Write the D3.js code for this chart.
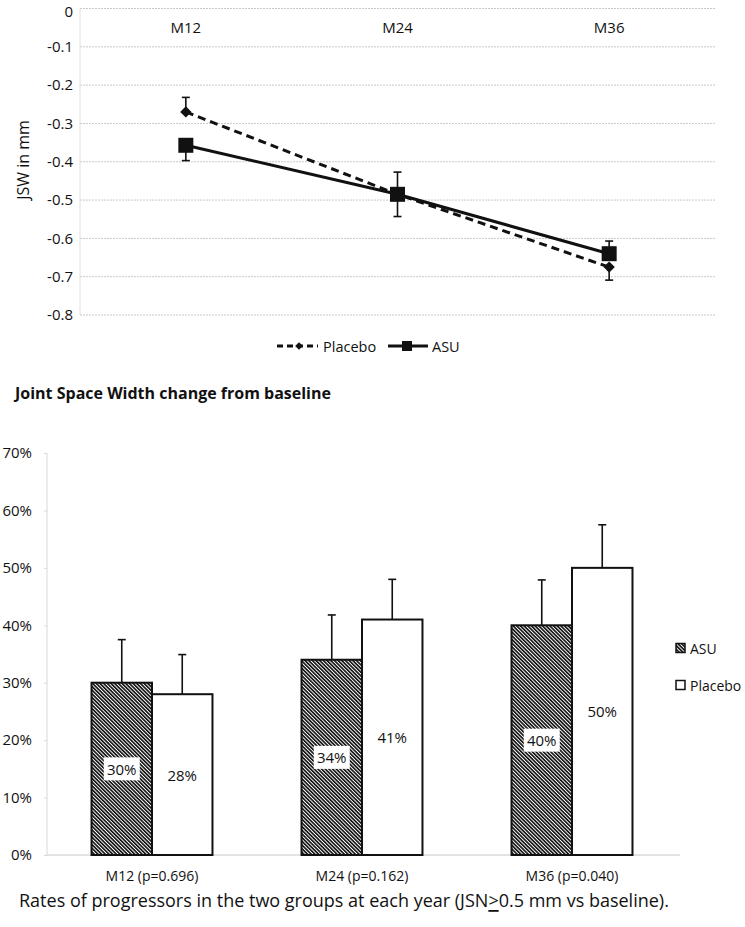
<!DOCTYPE html>
<html><head><meta charset="utf-8">
<script src="https://cdn.jsdelivr.net/npm/d3@7"></script>
<style>
body{margin:0;background:#fff;}
svg{display:block;font-family:"Open Sans",sans-serif;}
</style></head>
<body>
<svg id="chart" width="745" height="927"></svg>
<script>
// ---------- Top chart data ----------
const timepoints = ["M12", "M24", "M36"];
const placeboJSW = [-0.27, -0.485, -0.675];
const asuJSW = [-0.357, -0.485, -0.64];
const placeboErrHigh = [-0.232, -0.427, null];
const placeboErrLow = [null, null, -0.709];
const asuErrHigh = [null, null, -0.607];
const asuErrLow = [-0.397, -0.543, null];
const jswTicks = [0, -0.1, -0.2, -0.3, -0.4, -0.5, -0.6, -0.7, -0.8];
const jswTickLabels = ["0", "-0.1", "-0.2", "-0.3", "-0.4", "-0.5", "-0.6", "-0.7", "-0.8"];

// ---------- Bottom chart data ----------
const barCategories = ["M12 (p=0.696)", "M24 (p=0.162)", "M36 (p=0.040)"];
const asuRates = [30, 34, 40];
const placeboRates = [28, 41, 50];
const asuRateErr = [37.5, 41.8, 47.9];
const placeboRateErr = [34.9, 48.0, 57.5];
const rateTicks = [0, 10, 20, 30, 40, 50, 60, 70];

const svg = d3.select("#chart");
const defs = svg.append("defs");
const pat = defs.append("pattern").attr("id", "hatch").attr("patternUnits", "userSpaceOnUse")
  .attr("width", 2.6).attr("height", 2.6).attr("patternTransform", "rotate(-45)");
pat.append("rect").attr("width", 2.6).attr("height", 2.6).attr("fill", "#fff");
pat.append("line").attr("x1", 0.8).attr("y1", 0).attr("x2", 0.8).attr("y2", 2.6)
  .attr("stroke", "#111").attr("stroke-width", 1.7);

// ================= TOP CHART =================
const x1 = d3.scalePoint().domain(timepoints).range([80, 715]).padding(0.5);
const y1 = d3.scaleLinear().domain([-0.8, 0]).range([315, 8.5]);
const gTop = svg.append("g");

gTop.selectAll("line.grid").data(jswTicks).join("line")
  .attr("x1", 80).attr("x2", 715)
  .attr("y1", d => y1(d)).attr("y2", d => y1(d))
  .attr("stroke", "#c8c8c8").attr("stroke-width", 1).attr("stroke-dasharray", "2,1");
gTop.append("line").attr("x1", 80).attr("x2", 80).attr("y1", y1(0)).attr("y2", y1(-0.8))
  .attr("stroke", "#e0e0e0").attr("stroke-width", 1);

const yAx1 = gTop.append("g").attr("transform", "translate(80,0)")
  .call(d3.axisLeft(y1).tickValues(jswTicks).tickSize(0).tickPadding(7)
    .tickFormat((d, i) => jswTickLabels[i]));
yAx1.select(".domain").remove();
yAx1.selectAll("text").attr("font-size", 15).attr("fill", "#111").attr("font-family", "Open Sans");
// keep the top "0" label fully inside the picture
yAx1.selectAll(".tick").filter(d => d === 0).select("text").attr("dy", "0.5em");

gTop.append("text").attr("transform", "translate(23,160) rotate(-90)")
  .attr("text-anchor", "middle").attr("dominant-baseline", "central")
  .attr("font-size", 16).attr("fill", "#111").text("JSW in mm");

gTop.selectAll("text.cat").data(timepoints).join("text")
  .attr("x", d => x1(d)).attr("y", 27).attr("text-anchor", "middle")
  .attr("dominant-baseline", "central").attr("font-size", 15).attr("fill", "#111").text(d => d);

function errBars(vals, ends) {
  const data = vals.map((v, i) => ({ c: timepoints[i], v, e: ends[i] })).filter(d => d.e !== null);
  const g = gTop.append("g").attr("stroke", "#111").attr("stroke-width", 1.6);
  g.selectAll("line.v").data(data).join("line")
    .attr("x1", d => x1(d.c)).attr("x2", d => x1(d.c))
    .attr("y1", d => y1(d.v)).attr("y2", d => y1(d.e));
  g.selectAll("line.c").data(data).join("line")
    .attr("x1", d => x1(d.c) - 4).attr("x2", d => x1(d.c) + 4)
    .attr("y1", d => y1(d.e)).attr("y2", d => y1(d.e));
}
errBars(placeboJSW, placeboErrHigh);
errBars(placeboJSW, placeboErrLow);
errBars(asuJSW, asuErrHigh);
errBars(asuJSW, asuErrLow);

const line = d3.line().x((d, i) => x1(timepoints[i])).y(d => y1(d));
gTop.append("path").datum(placeboJSW).attr("d", line).attr("fill", "none")
  .attr("stroke", "#111").attr("stroke-width", 3).attr("stroke-dasharray", "8,5");
gTop.append("path").datum(asuJSW).attr("d", line).attr("fill", "none")
  .attr("stroke", "#111").attr("stroke-width", 3);

const diamond = d3.symbol().type(d3.symbolSquare).size(64);
gTop.selectAll("path.dia").data(placeboJSW).join("path")
  .attr("d", diamond())
  .attr("transform", (d, i) => `translate(${x1(timepoints[i])},${y1(d)}) rotate(45)`)
  .attr("fill", "#111");
gTop.selectAll("rect.sq").data(asuJSW).join("rect")
  .attr("x", (d, i) => x1(timepoints[i]) - 7.5).attr("y", d => y1(d) - 7.5)
  .attr("width", 15).attr("height", 15).attr("fill", "#111");

const lg = gTop.append("g");
lg.append("line").attr("x1", 277).attr("x2", 318).attr("y1", 346).attr("y2", 346)
  .attr("stroke", "#111").attr("stroke-width", 3).attr("stroke-dasharray", "6,4");
lg.append("path").attr("d", d3.symbol().type(d3.symbolSquare).size(30)())
  .attr("transform", "translate(299,346) rotate(45)").attr("fill", "#111");
lg.append("text").attr("x", 323).attr("y", 346).attr("dominant-baseline", "central")
  .attr("font-size", 14.5).attr("fill", "#111").text("Placebo");
lg.append("line").attr("x1", 388).attr("x2", 428).attr("y1", 346).attr("y2", 346)
  .attr("stroke", "#111").attr("stroke-width", 3);
lg.append("rect").attr("x", 402).attr("y", 341).attr("width", 10).attr("height", 10).attr("fill", "#111");
lg.append("text").attr("x", 432).attr("y", 346).attr("dominant-baseline", "central")
  .attr("font-size", 14.5).attr("fill", "#111").text("ASU");

svg.append("text").attr("x", 15).attr("y", 393).attr("dominant-baseline", "central")
  .attr("font-size", 16).attr("font-weight", "bold").attr("fill", "#111")
  .text("Joint Space Width change from baseline");

// ================= BOTTOM CHART =================
const x2 = d3.scaleBand().domain(barCategories).range([47, 677]).paddingInner(0.424).paddingOuter(0.212);
const y2 = d3.scaleLinear().domain([0, 70]).range([855, 453]);
const bw = x2.bandwidth() / 2;
const bot = svg.append("g");

bot.append("line").attr("x1", 47).attr("x2", 47).attr("y1", y2(70)).attr("y2", y2(0))
  .attr("stroke", "#d8d8d8").attr("stroke-width", 1);
bot.append("line").attr("x1", 47).attr("x2", 680).attr("y1", y2(0)).attr("y2", y2(0))
  .attr("stroke", "#c8c8c8").attr("stroke-width", 1.2);

const yAx2 = bot.append("g").attr("transform", "translate(47,0)")
  .call(d3.axisLeft(y2).tickValues(rateTicks).tickSize(3).tickPadding(12).tickFormat(d => d + "%"));
yAx2.select(".domain").remove();
yAx2.selectAll("line").attr("stroke", "#d8d8d8");
yAx2.selectAll("text").attr("font-size", 15).attr("fill", "#111").attr("font-family", "Open Sans");

const barData = [];
barCategories.forEach((c, i) => {
  barData.push({ c, s: "ASU", v: asuRates[i], e: asuRateErr[i], x: x2(c) });
  barData.push({ c, s: "Placebo", v: placeboRates[i], e: placeboRateErr[i], x: x2(c) + bw });
});

bot.selectAll("line.ev").data(barData).join("line")
  .attr("x1", d => d.x + bw / 2).attr("x2", d => d.x + bw / 2)
  .attr("y1", d => y2(d.v)).attr("y2", d => y2(d.e))
  .attr("stroke", "#111").attr("stroke-width", 1.6);
bot.selectAll("line.ec").data(barData).join("line")
  .attr("x1", d => d.x + bw / 2 - 4).attr("x2", d => d.x + bw / 2 + 4)
  .attr("y1", d => y2(d.e)).attr("y2", d => y2(d.e))
  .attr("stroke", "#111").attr("stroke-width", 1.6);

bot.selectAll("rect.bar").data(barData).join("rect")
  .attr("x", d => d.x).attr("width", bw)
  .attr("y", d => y2(d.v)).attr("height", d => y2(0) - y2(d.v))
  .attr("fill", d => d.s === "ASU" ? "url(#hatch)" : "#fff")
  .attr("stroke", "#111").attr("stroke-width", 2);

bot.selectAll("rect.lblbg").data(barData.filter(d => d.s === "ASU")).join("rect")
  .attr("x", d => d.x + bw / 2 - 18).attr("y", d => (y2(d.v) + y2(0)) / 2 - 11.5)
  .attr("width", 36).attr("height", 23).attr("fill", "#fff");
bot.selectAll("text.lbl").data(barData).join("text")
  .attr("x", d => d.x + bw / 2).attr("y", d => (y2(d.v) + y2(0)) / 2)
  .attr("text-anchor", "middle").attr("dominant-baseline", "central")
  .attr("font-size", 15).attr("fill", "#111").text(d => d.v + "%");

bot.selectAll("text.cat").data(barCategories).join("text")
  .attr("x", d => x2(d) + x2.bandwidth() / 2).attr("y", 875)
  .attr("text-anchor", "middle").attr("dominant-baseline", "central")
  .attr("font-size", 14).attr("fill", "#111").text(d => d);

const lg2 = bot.append("g");
[["ASU", "url(#hatch)", 648], ["Placebo", "#fff", 685]].forEach(([name, fill, yy]) => {
  lg2.append("rect").attr("x", 676).attr("y", yy - 4.5).attr("width", 9).attr("height", 9)
    .attr("fill", fill).attr("stroke", "#111").attr("stroke-width", 1.5);
  lg2.append("text").attr("x", 690).attr("y", yy).attr("dominant-baseline", "central")
    .attr("font-size", 14).attr("fill", "#111").text(name);
});

const cap = svg.append("text").attr("x", 19).attr("y", 900).attr("dominant-baseline", "central")
  .attr("font-size", 18).attr("fill", "#111");
cap.append("tspan").text("Rates of progressors in the two groups at each year (JSN");
cap.append("tspan").attr("text-decoration", "underline").text(">");
cap.append("tspan").text("0.5 mm vs baseline).");
</script>
</body></html>
